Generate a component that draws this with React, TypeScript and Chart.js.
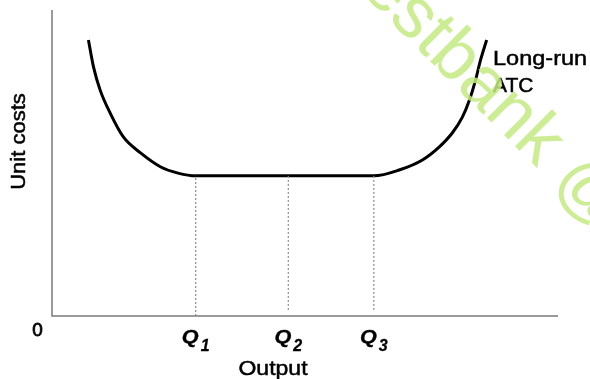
import React, { useEffect, useRef } from "react";
import { Chart, registerables } from "chart.js";

Chart.register(...registerables);

// Long-run ATC curve (output on x, unit costs on y; both axes run 0..100)
const curveOutput = [
  7.2, 8.2, 9.5, 11.5, 14.1, 17.5, 21.5, 24.9, 28.4,
  46.7,
  63.6, 68.6, 73.2, 76.5, 79.1, 81.1, 82.5, 83.7, 84.7, 85.9,
];
const curveCost = [
  90.2, 81.4, 73.9, 66.3, 58.5, 53.3, 48.7, 46.7, 45.8,
  45.8,
  45.8, 47.7, 51.0, 55.2, 59.8, 65.0, 70.6, 77.1, 83.7, 90.2,
];
const qOutputs = [28.4, 46.7, 63.6];
const qSubscripts = ["1", "2", "3"];
const qDropBase = [0, 2, 2];
const minCost = 45.8;
const yAxisTitle = "Unit costs";
const xAxisTitle = "Output";
const originLabel = "0";
const curveLabel = ["Long-run", "ATC"];
const watermark = "testbank @";

const FONT = '"Liberation Sans", Arial, sans-serif';

function drawText(
  ctx: CanvasRenderingContext2D,
  s: string,
  x: number,
  y: number,
  font: string,
  align: CanvasTextAlign,
  sx = 1,
  rot = 0,
  stroke = 0.5
) {
  ctx.save();
  ctx.translate(x, y);
  if (rot) ctx.rotate(rot);
  ctx.scale(sx, 1);
  ctx.font = font;
  ctx.textAlign = align;
  ctx.textBaseline = "alphabetic";
  ctx.fillStyle = "#000";
  ctx.fillText(s, 0, 0);
  if (stroke > 0) {
    ctx.strokeStyle = "#000";
    ctx.lineWidth = stroke;
    ctx.strokeText(s, 0, 0);
  }
  ctx.restore();
}

const decorPlugin = {
  id: "decor",
  beforeDatasetsDraw(chart: any) {
    const { ctx, chartArea } = chart;
    ctx.save();
    ctx.strokeStyle = "#7a7a7a";
    ctx.lineWidth = 1.5;
    ctx.beginPath();
    ctx.moveTo(chartArea.left, chartArea.top);
    ctx.lineTo(chartArea.left, chartArea.bottom);
    ctx.lineTo(chartArea.right, chartArea.bottom);
    ctx.stroke();
    ctx.restore();
  },
  afterDraw(chart: any) {
    const { ctx, chartArea } = chart;
    const xs = chart.scales.x;
    qOutputs.forEach((q, i) => {
      const px = xs.getPixelForValue(q);
      const fQ = `italic bold 18px ${FONT}`;
      const fS = `italic bold 16px ${FONT}`;
      ctx.save();
      ctx.font = fQ;
      const wQ = ctx.measureText("Q").width * 1.2;
      ctx.font = fS;
      const wS = ctx.measureText(qSubscripts[i]).width;
      ctx.restore();
      const gap = 2;
      const start = px - (wQ + gap + wS) / 2;
      drawText(ctx, "Q", start, chartArea.bottom + 27, fQ, "left", 1.2, 0, 0.3);
      drawText(ctx, qSubscripts[i], start + wQ + gap, chartArea.bottom + 35, fS, "left", 1, 0, 0.3);
    });
    drawText(ctx, xAxisTitle, 273, 375, `20px ${FONT}`, "center", 1.15);
    drawText(ctx, originLabel, 37.5, 336, `18px ${FONT}`, "center", 1.05, 0, 0.8);
    drawText(ctx, yAxisTitle, 25, 141.5, `20px ${FONT}`, "center", 1.1, -Math.PI / 2);
    drawText(ctx, curveLabel[0], 493, 65, `21px ${FONT}`, "left", 1.12);
    drawText(ctx, curveLabel[1], 493, 92, `21px ${FONT}`, "left", 1.0);

    // watermark
    ctx.save();
    ctx.font = `72px ${FONT}`;
    const pre = ctx.measureText("test").width + ctx.measureText("b").width / 2;
    ctx.translate(455, 58);
    ctx.rotate((45 * Math.PI) / 180);
    ctx.fillStyle = "rgba(196, 234, 130, 0.85)";
    ctx.textBaseline = "middle";
    ctx.textAlign = "left";
    ctx.fillText(watermark, -pre, 0);
    ctx.restore();
  },
};

export default function App() {
  const ref = useRef<HTMLCanvasElement>(null);
  useEffect(() => {
    if (!ref.current) return;
    const dropSets = qOutputs.map((q, i) => ({
      data: [
        { x: q, y: qDropBase[i] },
        { x: q, y: minCost },
      ],
      borderColor: "#8a8a8a",
      borderWidth: 1.2,
      borderDash: [2, 2],
      pointRadius: 0,
      fill: false,
    }));
    const chart = new Chart(ref.current, {
      type: "line",
      data: {
        datasets: [
          ...dropSets,
          {
            data: curveOutput.map((x, i) => ({ x, y: curveCost[i] })),
            borderColor: "#000",
            borderWidth: 3,
            pointRadius: 0,
            cubicInterpolationMode: "monotone",
            fill: false,
          },
        ],
      },
      options: {
        responsive: false,
        animation: false,
        layout: { padding: { left: 52, right: 32, top: 10, bottom: 63 } },
        plugins: { legend: { display: false }, tooltip: { enabled: false } },
        scales: {
          x: { type: "linear", min: 0, max: 100, display: false },
          y: { type: "linear", min: 0, max: 100, display: false },
        },
      },
      plugins: [decorPlugin],
    } as any);
    return () => chart.destroy();
  }, []);
  return (
    <div style={{ position: "absolute", left: 0, top: 0, width: 590, height: 379, background: "#fff" }}>
      <canvas ref={ref} width={590} height={379} />
    </div>
  );
}
